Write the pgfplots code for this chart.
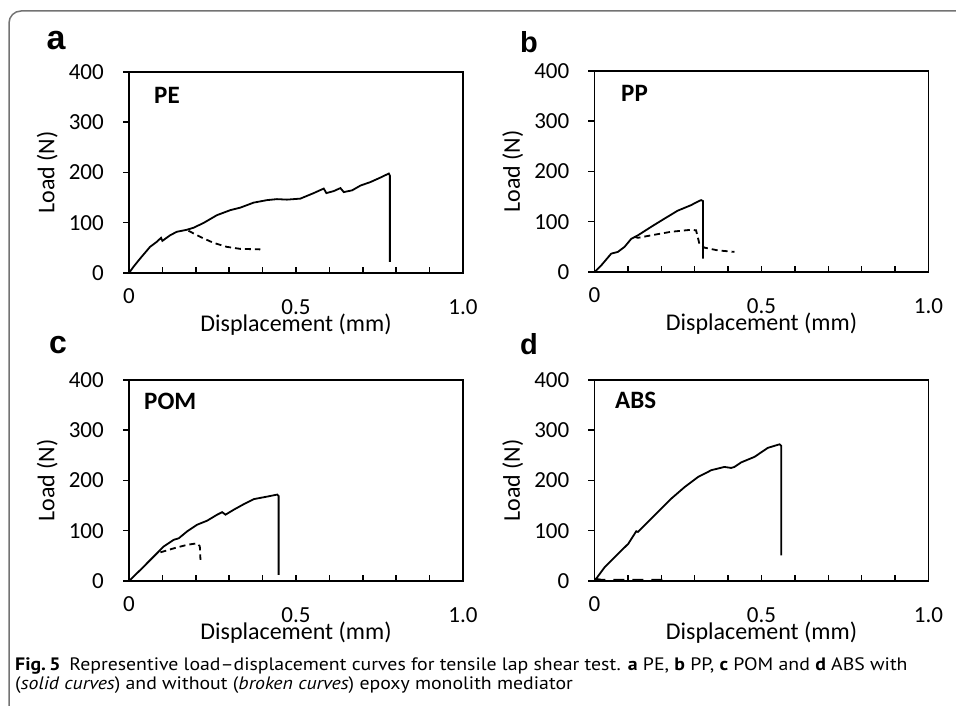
\documentclass[border=0pt]{standalone}
\usepackage{pgfplots}
\pgfplotsset{compat=1.18}
\usepackage{fontspec}
\setmainfont{Carlito}
\newfontfamily\arialb{Liberation Sans}[BoldFont={Liberation Sans Bold}]
\newfontfamily\capfont{PT Sans}[Ligatures=TeX]
\newcommand{\tickfont}{\fontsize{23}{27}\selectfont}
\newcommand{\labfont}{\fontsize{24}{28}\selectfont}
\newcommand{\matfont}{\fontsize{25}{29}\selectfont\bfseries}

\pgfplotsset{
  mainaxis/.style={scale only axis, width=334pt, height=201pt, anchor=south west,
    xmin=0, xmax=1, ymin=0, ymax=400, clip=false,
    axis line style={line width=1.8pt},
    /pgf/number format/assume math mode=true,
    tick align=inside, tickpos=left,
    major tick length=6pt, minor tick length=6pt,
    every tick/.style={draw=black, line width=1.4pt},
    ytick={0,100,200,300,400}, ytick style={xshift=-6pt},
    xtick={0,0.5,1}, minor xtick={0.1,0.2,0.3,0.4,0.6,0.7,0.8,0.9},
    xticklabels={\raisebox{11pt}{0},0.5,1.0},
    ticklabel style={font=\tickfont},
    yticklabel style={inner sep=0pt, xshift=-25pt},
    xticklabel style={anchor=base, yshift=-42pt},
    xlabel={Displacement (mm)}, ylabel={Load (N)},
    label style={font=\labfont},
    xlabel style={at={(axis description cs:0.5,-0.255)}, anchor=center},
    ylabel style={at={(axis description cs:-0.245,0.5)}, anchor=center},
  },
  sol/.style={black, line width=1.8pt, no markers},
  das/.style={black, line width=1.8pt, no markers, dash pattern=on 6pt off 4pt},
  tk/.style={black, line width=1.5pt, no markers, forget plot},
}
% tick marks: inner x ticks every 0.1 and outer y ticks every 100
\newcommand{\panelticks}{%
  \addplot[tk, ycomb] coordinates {(0.1,12) (0.2,12) (0.3,12) (0.4,12) (0.5,12) (0.6,12) (0.7,12) (0.8,12) (0.9,12)};
  \addplot[tk, xcomb] coordinates {(-0.018,0) (-0.018,100) (-0.018,200) (-0.018,300) (-0.018,400)};
}

\begin{document}
\begin{tikzpicture}
\useasboundingbox (0pt,0pt) rectangle (956pt,706pt);
\draw[black!55, line width=1.5pt, rounded corners=12pt] (9pt,-5pt) -- (9pt,695pt) -- (962pt,695pt);

% ---------- a: PE
\begin{axis}[mainaxis, at={(129pt,433pt)}]
\panelticks
\addplot[sol] coordinates {
(0,0) (0.013,12) (0.033,28.5) (0.063,52) (0.083,62) (0.096,70) (0.100,64)
(0.123,75) (0.143,82) (0.173,86) (0.193,90) (0.223,99.5) (0.263,115) (0.303,125)
(0.333,130) (0.373,140) (0.413,145) (0.443,147) (0.473,146) (0.513,148) (0.553,159)
(0.583,168) (0.591,159) (0.613,163) (0.633,169) (0.643,161) (0.668,164.5) (0.693,174)
(0.723,181) (0.753,190) (0.778,198) (0.781,194) (0.781,22)};
\addplot[das] coordinates {
(0.178,84) (0.213,72) (0.253,60) (0.293,52) (0.333,48) (0.393,47)};
\end{axis}

% ---------- b: PP
\begin{axis}[mainaxis, at={(594.5pt,434pt)}]
\panelticks
\addplot[sol] coordinates {
(0,0) (0.02,13) (0.05,36.5) (0.07,40) (0.09,50) (0.11,66) (0.13,73) (0.17,90)
(0.209,106) (0.249,122) (0.289,133) (0.309,140) (0.319,143) (0.325,141) (0.325,26.5)};
\addplot[das] coordinates {
(0.12,70) (0.13,68) (0.17,73) (0.229,80) (0.289,84) (0.304,83) (0.309,70)
(0.314,56) (0.329,48.5) (0.369,43) (0.419,40)};
\end{axis}

% ---------- c: POM
\begin{axis}[mainaxis, at={(129pt,125pt)}]
\panelticks
\addplot[sol] coordinates {
(0,0) (0.034,22) (0.074,48.7) (0.104,68.7) (0.134,82) (0.149,85) (0.174,98.7)
(0.204,112) (0.234,120) (0.264,132) (0.279,137) (0.289,132) (0.314,142) (0.344,153)
(0.374,163) (0.414,168) (0.444,172) (0.448,169) (0.448,12)};
\addplot[das] coordinates {
(0.094,57) (0.134,65) (0.174,72) (0.204,75) (0.212,69) (0.214,42)};
\end{axis}

% ---------- d: ABS
\begin{axis}[mainaxis, at={(594.5pt,125pt)}]
\panelticks
\addplot[sol] coordinates {
(0,0) (0.031,28) (0.071,54.5) (0.101,74) (0.125,99) (0.130,97.7) (0.150,111)
(0.190,137.5) (0.230,164) (0.270,187) (0.310,207) (0.350,220.6) (0.389,227)
(0.409,225) (0.419,227) (0.439,236) (0.479,247) (0.519,265) (0.554,272)
(0.559,269) (0.559,51)};
\addplot[black, line width=2.4pt, no markers, dash pattern=on 11pt off 8pt] coordinates {(0,4) (0.02,2) (0.21,2)};
\end{axis}

% panel letters
\node[font=\arialb\bfseries\fontsize{34}{36}\selectfont, inner sep=0pt] at (56pt,665pt) {a};
\node[font=\arialb\bfseries\fontsize{29}{32}\selectfont, inner sep=0pt] at (529pt,664pt) {b};
\node[font=\arialb\bfseries\fontsize{32}{34}\selectfont, inner sep=0pt] at (58pt,361pt) {c};
\node[font=\arialb\bfseries\fontsize{29}{32}\selectfont, inner sep=0pt] at (529pt,362pt) {d};

% material labels
\node[font=\matfont, anchor=west, inner sep=0pt] at (154pt,611pt) {PE};
\node[font=\matfont, anchor=west, inner sep=0pt] at (621pt,613pt) {PP};
\node[font=\matfont, anchor=west, inner sep=0pt] at (144pt,305pt) {POM};
\node[font=\matfont, anchor=west, inner sep=0pt] at (615pt,306pt) {ABS};

% caption
\node[anchor=base west, inner sep=0pt, font=\capfont\fontsize{18}{20}\selectfont, xscale=1.1, transform shape] at (15pt,35pt)
 {\textbf{Fig.\,5}\hspace{8pt}Representive load–displacement curves for tensile lap shear test. \textbf{a} PE, \textbf{b} PP, \textbf{c} POM and \textbf{d} ABS with};
\node[anchor=base west, inner sep=0pt, font=\capfont\fontsize{18}{20}\selectfont, xscale=1.1, transform shape] at (15pt,16pt)
 {(\textit{solid curves}) and without (\textit{broken curves}) epoxy monolith mediator};
\end{tikzpicture}
\end{document}
